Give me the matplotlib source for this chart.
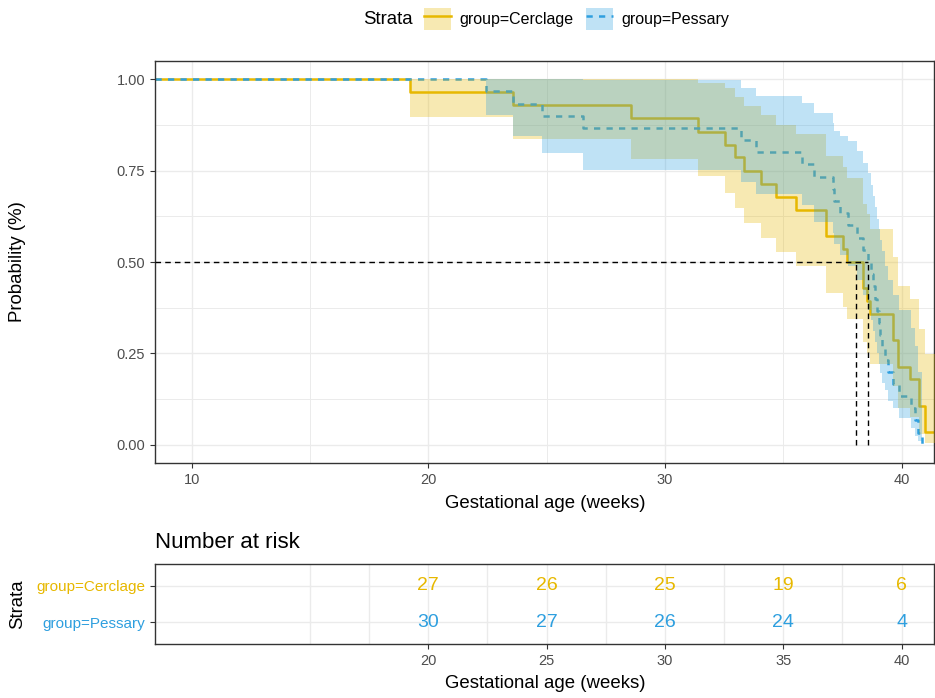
import matplotlib
matplotlib.use("Agg")
import matplotlib.pyplot as plt
from matplotlib.patches import Patch
from matplotlib.lines import Line2D
from matplotlib.legend_handler import HandlerTuple
from matplotlib.ticker import FormatStrFormatter

plt.rcParams['font.family'] = ['Liberation Sans', 'DejaVu Sans']

# Kaplan-Meier curves (time in weeks, survival, 95% band)
cer_time = [19.24, 23.56, 28.55, 31.40, 32.52, 32.94, 33.35, 34.06, 34.70, 35.55, 36.81,
            37.54, 37.68, 38.38, 38.53, 38.67, 39.65, 39.86, 40.35, 40.75, 40.99]
cer_surv = [0.964, 0.929, 0.893, 0.857, 0.821, 0.786, 0.750, 0.714, 0.679, 0.643, 0.571,
            0.536, 0.500, 0.429, 0.393, 0.357, 0.286, 0.214, 0.179, 0.107, 0.036]
cer_upper = [1.0, 1.0, 1.0, 0.99, 0.976, 0.951, 0.927, 0.901, 0.876, 0.849, 0.79,
             0.76, 0.73, 0.66, 0.63, 0.59, 0.515, 0.434, 0.398, 0.318, 0.249]
cer_lower = [0.897, 0.837, 0.783, 0.735, 0.69, 0.649, 0.608, 0.565, 0.528, 0.49, 0.415,
             0.377, 0.345, 0.28, 0.25, 0.222, 0.16, 0.10, 0.075, 0.03, 0.005]

pes_time = [22.43, 23.58, 24.79, 26.55, 33.23, 33.86, 35.79, 36.28, 37.12, 37.15, 37.40,
            37.74, 38.10, 38.38, 38.57, 38.70, 38.80, 38.88, 38.97, 39.04, 39.10, 39.17,
            39.30, 39.44, 39.62, 39.90, 40.40, 40.57, 40.70, 40.85]
pes_surv = [0.967, 0.933, 0.900, 0.867, 0.833, 0.800, 0.767, 0.733, 0.700, 0.667, 0.633,
            0.600, 0.567, 0.533, 0.500, 0.467, 0.433, 0.400, 0.367, 0.333, 0.300, 0.267,
            0.233, 0.200, 0.167, 0.133, 0.100, 0.067, 0.033, 0.0]
pes_upper = [1.0, 1.0, 1.0, 0.997, 0.976, 0.955, 0.935, 0.909, 0.88, 0.858, 0.845,
             0.83, 0.803, 0.771, 0.744, 0.71, 0.68, 0.65, 0.619, 0.59, 0.56, 0.53,
             0.49, 0.45, 0.41, 0.37, 0.32, 0.27, 0.2, 0.0]
pes_lower = [0.903, 0.844, 0.799, 0.753, 0.72, 0.685, 0.655, 0.61, 0.58, 0.55, 0.52,
             0.49, 0.45, 0.41, 0.37, 0.34, 0.31, 0.28, 0.25, 0.22, 0.195, 0.17,
             0.15, 0.12, 0.10, 0.073, 0.045, 0.025, 0.01, 0.0]

medians = [38.08, 38.6]

risk_time = [20, 25, 30, 35, 40]
risk_cer = [27, 26, 25, 19, 6]
risk_pes = [30, 27, 26, 24, 4]

groups = ['group=Cerclage', 'group=Pessary']
YEL = '#E7B800'
BLU = '#2E9FDF'

W, H = 935, 698
X0, X1 = 8.45, 41.37


def fx(px):
    return px / W


def fy(py):
    return 1 - py / H


def steps(t, v, start, end=None):
    x = [X0] + t
    y = [start] + v
    if end is not None:
        x = x + [end]
        y = y + [v[-1]]
    return x, y


fig = plt.figure(figsize=(W / 100, H / 100), dpi=100)

# main survival panel
ax = fig.add_axes([fx(155), fy(463), fx(934) - fx(155), fy(61) - fy(463)])
xc, sc = steps(cer_time, cer_surv, 1.0, 41.8)
_, uc = steps(cer_time, cer_upper, 1.0, 41.8)
_, lc = steps(cer_time, cer_lower, 1.0, 41.8)
xp, sp = steps(pes_time, pes_surv, 1.0)
_, up = steps(pes_time, pes_upper, 1.0)
_, lp = steps(pes_time, pes_lower, 1.0)

ax.step(xc, sc, where='post', color=YEL, lw=1.8, zorder=2)
ax.step(xp, sp, where='post', color=BLU, lw=1.8, ls=(0, (2.5, 2.5)), zorder=2)
ax.fill_between(xc, lc, uc, step='post', color=YEL, alpha=0.3, lw=0, zorder=3)
ax.fill_between(xp, lp, up, step='post', color=BLU, alpha=0.3, lw=0, zorder=3)

ax.plot([X0, max(medians)], [0.5, 0.5], color='black', lw=1.0, ls=(0, (4, 3)), zorder=4)
for m in medians:
    ax.plot([m, m], [0, 0.5], color='black', lw=1.0, ls=(0, (4, 3)), zorder=4)

ax.set_xlim(X0, X1)
ax.set_ylim(-0.05, 1.05)
ax.set_xticks([10, 20, 30, 40])
ax.set_xticks([15, 25, 35], minor=True)
ax.set_yticks([0, 0.25, 0.5, 0.75, 1.0])
ax.set_yticks([0.125, 0.375, 0.625, 0.875], minor=True)
ax.yaxis.set_major_formatter(FormatStrFormatter('%.2f'))
ax.grid(which='major', color='#EBEBEB', lw=1.0, zorder=0)
ax.grid(which='minor', color='#EBEBEB', lw=0.7, zorder=0)
ax.set_axisbelow(True)
ax.tick_params(which='major', length=3.5, width=0.8, color='#333333',
               labelcolor='#4D4D4D', labelsize=10.5)
ax.tick_params(which='minor', length=0)
for s in ax.spines.values():
    s.set_color('#333333')
    s.set_linewidth(1.0)

fig.text(fx(545), fy(503), 'Gestational age (weeks)', ha='center', va='center', fontsize=13.4)
fig.text(fx(18), fy(262), 'Probability (%)', ha='center', va='center', rotation=90, fontsize=13.4)

# legend
fig.text(fx(363), fy(20), 'Strata', ha='left', va='center', fontsize=13.4)
h_c = (Patch(facecolor=YEL, alpha=0.3, lw=0), Line2D([], [], color=YEL, lw=1.8))
h_p = (Patch(facecolor=BLU, alpha=0.3, lw=0),
       Line2D([], [], color=BLU, lw=1.8, ls=(0, (2.5, 2.5))))
fig.legend([h_c, h_p], groups, handler_map={tuple: HandlerTuple(ndivide=1, pad=0)},
           loc='center left', bbox_to_anchor=(fx(424), fy(19)), ncol=2, frameon=False,
           fontsize=11.5, handlelength=1.7, handleheight=1.7, handletextpad=0.5,
           columnspacing=0.8, borderpad=0, borderaxespad=0)

# risk table
ax2 = fig.add_axes([fx(155), fy(644), fx(934) - fx(155), fy(564) - fy(644)])
for t, a, b in zip(risk_time, risk_cer, risk_pes):
    ax2.text(t, 2, str(a), ha='center', va='center', color=YEL, fontsize=14)
    ax2.text(t, 1, str(b), ha='center', va='center', color=BLU, fontsize=14)
ax2.set_xlim(X0, X1)
ax2.set_ylim(0.4, 2.6)
ax2.set_xticks(risk_time)
ax2.set_xticks([15, 17.5, 22.5, 27.5, 32.5, 37.5], minor=True)
ax2.set_yticks([2, 1])
ax2.set_yticklabels(groups)
ax2.grid(which='both', color='#EBEBEB', lw=1.0)
ax2.set_axisbelow(True)
ax2.tick_params(which='major', length=3.5, width=0.8, color='#333333',
                labelcolor='#4D4D4D', labelsize=10.5)
ax2.tick_params(axis='y', labelsize=11)
for lab, col in zip(ax2.get_yticklabels(), [YEL, BLU]):
    lab.set_color(col)
ax2.tick_params(which='minor', length=0)
for s in ax2.spines.values():
    s.set_color('#333333')
    s.set_linewidth(1.0)

fig.text(fx(155), fy(543), 'Number at risk', ha='left', va='center', fontsize=16)
fig.text(fx(545), fy(683), 'Gestational age (weeks)', ha='center', va='center', fontsize=13.4)
fig.text(fx(18), fy(604), 'Strata', ha='center', va='center', rotation=90, fontsize=13.4)

fig.savefig('out.png', dpi=100)
